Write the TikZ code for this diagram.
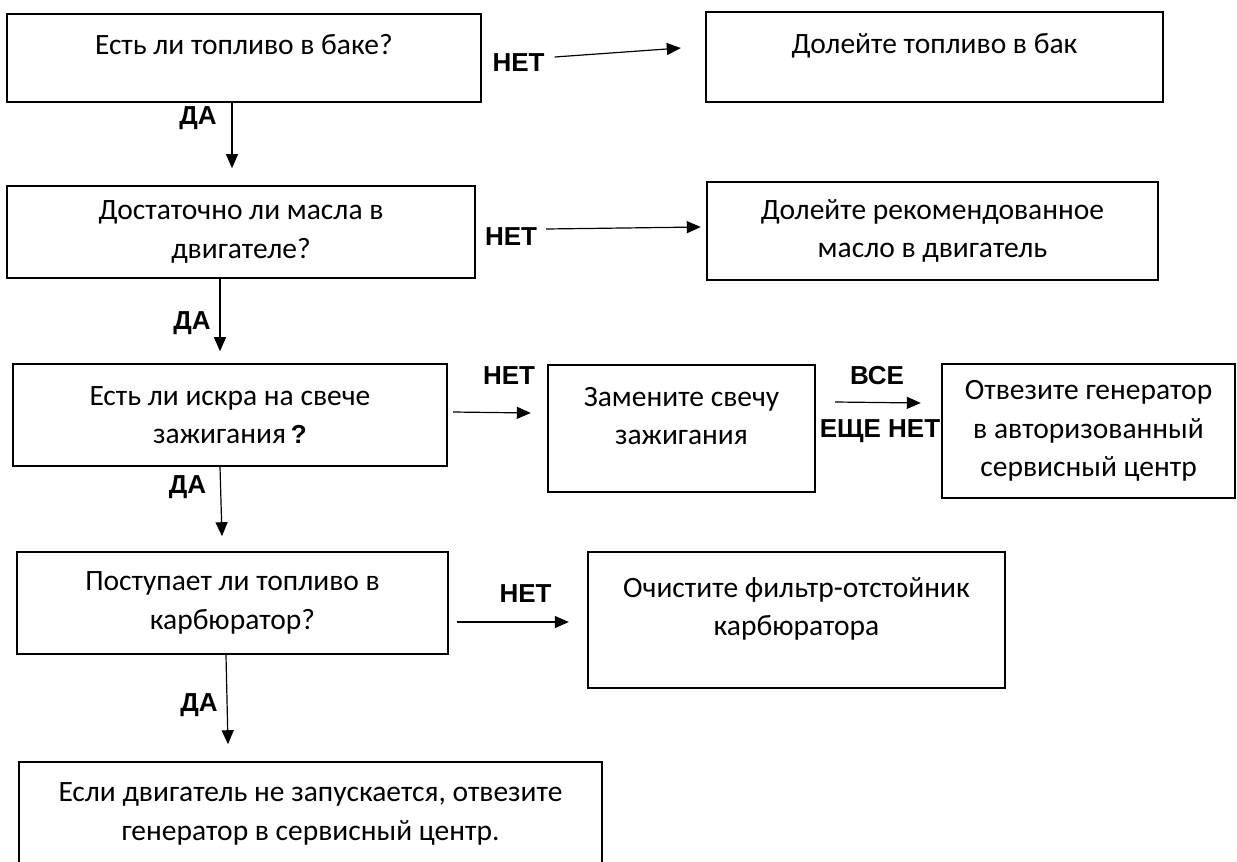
\documentclass[tikz,border=0pt]{standalone}
\usepackage{fontspec}
\setmainfont{Carlito}
\newfontfamily\lblfont{Liberation Sans}
\usetikzlibrary{arrows.meta}

\begin{document}
\begin{tikzpicture}[x=1pt,y=-1pt]
                    \tikzstyle{box} = [draw, line width=2.4pt, align=center, inner sep=0pt, font=\fontsize{29.5}{38.5}\selectfont]
                    \tikzstyle{lbl} = [inner sep=0pt, font=\lblfont\bfseries\fontsize{26}{30}\selectfont]
                    \tikzstyle{arr} = [-{Triangle[length=14pt,width=12pt]}, line width=1.2pt]
                    \useasboundingbox (0,0) rectangle (1237,862);
                    % questions
                    \node[box, minimum width=474, minimum height=88, text depth=27pt] (q1) at (244,58) {Есть ли топливо в баке?};
                    \node[box, minimum width=468, minimum height=92] (q3) at (241,232) {Достаточно ли масла в\\двигателе?};
                    \node[box, minimum width=434, minimum height=102] (q5) at (230,415) {Есть ли искра на свече\\зажигания\,{\lblfont\bfseries\fontsize{26}{30}\selectfont ?}};
                    \node[box, minimum width=431, minimum height=102] (q8) at (232.5,603) {Поступает ли топливо в\\карбюратор?};
                    \node[box, minimum width=583, minimum height=104] (q10) at (310.5,814) {Если двигатель не запускается, отвезите\\генератор в сервисный центр.};
                    % actions
                    \node[box, minimum width=457, minimum height=90, text depth=27pt] (q2) at (934.5,57) {Долейте топливо в бак};
                    \node[box, minimum width=451, minimum height=98] (q4) at (932.5,231) {Долейте рекомендованное\\масло в двигатель};
                    \node[box, minimum width=267, minimum height=127, text depth=25pt] (q6) at (681.5,428.5) {Замените свечу\\зажигания};
                    \node[box, minimum width=293, minimum height=134] (q7) at (1088.5,431) {Отвезите генератор\\в авторизованный\\сервисный центр};
                    \node[box, minimum width=417, minimum height=136, text depth=27pt] (q9) at (796.5,620) {Очистите фильтр-отстойник\\карбюратора};
                    % labels
                    \node[lbl] (n1) at (518.5,63) {НЕТ};
                    \node[lbl] (n2) at (511,237) {НЕТ};
                    \node[lbl] (n3) at (509,376) {НЕТ};
                    \node[lbl] (n4) at (877,376) {ВСЕ};
                    \node[lbl] (n5) at (880,431) {ЕЩЕ НЕТ};
                    \node[lbl] (n6) at (525.5,594) {НЕТ};
                    \node[lbl] (d1) at (198,118) {ДА};
                    \node[lbl] (d2) at (192,323) {ДА};
                    \node[lbl] (d3) at (187.5,487) {ДА};
                    \node[lbl] (d4) at (199,705) {ДА};
                    % arrows
                    \draw[arr] ([xshift=10,yshift=6]n1.east) -- ([xshift=-24,yshift=9]q2.west);
                    \draw[arr] ([xshift=9,yshift=8]n2.east) -- ([xshift=-5,yshift=4]q4.west);
                    \draw[arr] ([xshift=5,yshift=3]q5.east) -- ([xshift=-16,yshift=15.5]q6.west);
                    \draw[arr] ([xshift=19,yshift=26.5]q6.east) -- ([xshift=-20,yshift=28]q7.west);
                    \draw[arr] ([xshift=7.5,yshift=-19]q8.east) -- ([xshift=-18,yshift=-2]q9.west);
                    \draw[arr] ([xshift=-12]q1.south) -- ++(0,65);
                    \draw[arr] ([xshift=-21]q3.south) -- ++(0,72);
                    \draw[arr] ([xshift=-10]q5.south) -- ++(2,69);
                    \draw[arr] ([xshift=-6.5]q8.south) -- ++(2,89);
\end{tikzpicture}
\end{document}
